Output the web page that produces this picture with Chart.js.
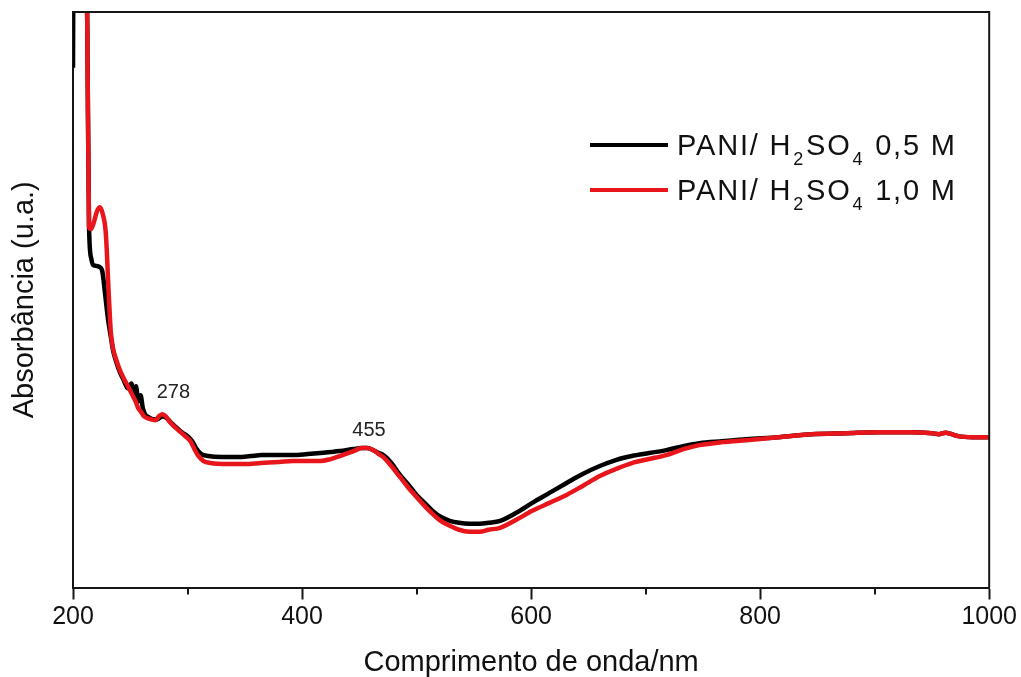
<!DOCTYPE html>
<html lang="pt-BR">
<head>
    <meta charset="utf-8">
    <title>Espectro UV-Vis PANI / H2SO4</title>
    <style>
    body,
    html {
        margin: 0;
        background: #ffffff;
    }
    #wrap {
        width: 1021px;
        height: 677px;
    }
    </style>
    <script src="https://cdn.jsdelivr.net/npm/chart.js"></script>
</head>
<body>
    <div id="wrap">
        <canvas id="uvChart" width="1021" height="677"></canvas>
    </div>

    <script type="text/javascript">
        // espectro PANI/ H2SO4 0,5 M (comprimento de onda em nm, absorbância em u.a.)
        var wl05 = [200, 200.8, 205, 211, 212.5, 214, 216, 217.5, 220, 223, 225.5, 228, 230.5, 233, 235, 237.4, 241, 244.4, 248, 251, 253, 255, 257, 259, 261, 263, 266, 270, 274, 278, 282, 286, 290, 295, 300, 304, 308, 312, 318, 330, 345, 355, 365, 380, 392, 405, 416, 425, 433, 445, 452, 457, 462, 467, 471, 478, 485.5, 493, 500, 507, 514, 521, 529, 537, 546, 555, 563, 573, 587, 601, 616, 631, 645, 660, 674, 688, 703, 718, 733, 747, 767, 788, 816, 845, 875, 903, 932, 950, 956, 962, 966, 973, 985, 1000];
        var abs05 = [5.22, 7.5, 9.0, 7.0, 5.6, 3.62, 3.30, 3.24, 3.23, 3.22, 3.18, 2.95, 2.70, 2.52, 2.38, 2.28, 2.16, 2.08, 2.00, 2.05, 1.94, 2.02, 1.87, 1.93, 1.80, 1.74, 1.71, 1.69, 1.69, 1.72, 1.70, 1.65, 1.61, 1.56, 1.52, 1.47, 1.39, 1.34, 1.32, 1.31, 1.31, 1.32, 1.33, 1.33, 1.33, 1.34, 1.35, 1.36, 1.37, 1.39, 1.40, 1.40, 1.38, 1.35, 1.33, 1.25, 1.13, 1.03, 0.93, 0.85, 0.77, 0.71, 0.67, 0.65, 0.64, 0.64, 0.65, 0.67, 0.75, 0.85, 0.95, 1.05, 1.14, 1.22, 1.28, 1.32, 1.35, 1.38, 1.42, 1.45, 1.47, 1.49, 1.51, 1.54, 1.55, 1.56, 1.56, 1.55, 1.54, 1.555, 1.545, 1.52, 1.51, 1.51];

        // espectro PANI/ H2SO4 1,0 M
        var wl10 = [205, 211, 212.5, 214, 215.7, 218, 221, 223.5, 226, 228.7, 231, 233, 235, 237.4, 241, 244.4, 248, 252, 255, 257, 259, 262, 265, 268, 272, 275, 278, 281, 284, 288, 292, 296, 300, 303, 306, 309, 314, 320, 335, 350, 364, 380, 392, 405, 416, 425, 433, 445, 452, 457, 462, 467, 471, 478, 485.5, 493, 500, 507, 514, 521, 529, 537, 546, 555, 563, 573, 587, 601, 616, 631, 645, 660, 674, 688, 703, 718, 733, 747, 767, 788, 816, 845, 875, 903, 932, 950, 956, 962, 966, 973, 985, 1000];
        var abs10 = [9.0, 7.0, 5.6, 3.62, 3.60, 3.66, 3.78, 3.82, 3.75, 3.55, 3.0, 2.57, 2.40, 2.30, 2.18, 2.10, 2.02, 1.93, 1.86, 1.80, 1.77, 1.72, 1.70, 1.69, 1.68, 1.72, 1.74, 1.72, 1.67, 1.62, 1.58, 1.54, 1.50, 1.46, 1.39, 1.33, 1.27, 1.25, 1.24, 1.24, 1.25, 1.26, 1.27, 1.27, 1.27, 1.29, 1.32, 1.37, 1.40, 1.40, 1.38, 1.34, 1.31, 1.22, 1.11, 1.00, 0.91, 0.82, 0.74, 0.67, 0.62, 0.58, 0.56, 0.56, 0.58, 0.60, 0.68, 0.77, 0.85, 0.93, 1.02, 1.12, 1.19, 1.25, 1.29, 1.33, 1.39, 1.43, 1.46, 1.48, 1.51, 1.54, 1.55, 1.56, 1.56, 1.55, 1.54, 1.555, 1.545, 1.52, 1.51, 1.51];

        var seriesNames = [
            ['PANI/ H', '2', 'SO', '4', ' 0,5 M'],
            ['PANI/ H', '2', 'SO', '4', ' 1,0 M']
        ];
        var seriesColors = ['#000000', '#e8151b'];

        // bandas marcadas no espectro
        var peakWl = [278, 455];
        var peakAbs = [1.74, 1.40];

        var xTicks = [200, 400, 600, 800, 1000];

        var FONT = '"Liberation Sans", Arial, sans-serif';
        var AXIS = '#161616';

        function toPoints(xs, ys) {
            return xs.map(function (x, i) { return { x: x, y: ys[i] }; });
        }

        // moldura, ticks menores, rótulos das bandas e legenda com subscritos
        var extras = {
            id: 'extras',
            afterDraw: function (chart) {
                var ctx = chart.ctx;
                var a = chart.chartArea;
                var xs = chart.scales.x;
                var ys = chart.scales.y;
                ctx.save();

                ctx.strokeStyle = AXIS;
                ctx.lineWidth = 2;
                ctx.beginPath();
                ctx.moveTo(a.left, a.top);
                ctx.lineTo(a.right, a.top);
                ctx.lineTo(a.right, a.bottom);
                ctx.stroke();

                // ticks menores a cada 100 nm
                for (var v = 300; v < 1000; v += 200) {
                    var px = Math.round(xs.getPixelForValue(v));
                    ctx.beginPath();
                    ctx.moveTo(px, a.bottom);
                    ctx.lineTo(px, a.bottom + 7);
                    ctx.stroke();
                }

                ctx.fillStyle = '#222222';
                ctx.font = '20px ' + FONT;
                ctx.textAlign = 'center';
                ctx.textBaseline = 'middle';
                peakWl.forEach(function (w, i) {
                    var offX = i === 0 ? 11 : 4;
                    var offY = i === 0 ? 22 : 18;
                    ctx.fillText(String(w), xs.getPixelForValue(w) + offX, ys.getPixelForValue(peakAbs[i]) - offY);
                });

                // legenda
                var lx = 590, ly = 145, rowH = 45;
                ctx.textAlign = 'left';
                ctx.textBaseline = 'alphabetic';
                ctx.letterSpacing = '1.8px';
                seriesNames.forEach(function (parts, i) {
                    var y = ly + i * rowH;
                    ctx.strokeStyle = seriesColors[i];
                    ctx.lineWidth = 4;
                    ctx.beginPath();
                    ctx.moveTo(lx, y);
                    ctx.lineTo(lx + 78, y);
                    ctx.stroke();

                    var tx = lx + 87;
                    ctx.fillStyle = '#111111';
                    parts.forEach(function (p, k) {
                        var sub = (k % 2 === 1);
                        ctx.font = (sub ? '18px ' : '29px ') + FONT;
                        ctx.fillText(p, tx, y + (sub ? 20 : 10));
                        tx += ctx.measureText(p).width + 1;
                    });
                });
                ctx.restore();
            }
        };

        var chart = new Chart(document.getElementById('uvChart').getContext('2d'), {
            type: 'line',
            data: {
                datasets: [{
                    label: 'PANI/ H2SO4 0,5 M',
                    data: toPoints(wl05, abs05),
                    borderColor: seriesColors[0],
                    borderWidth: 4.5,
                    pointRadius: 0,
                    cubicInterpolationMode: 'monotone',
                    clip: 0,
                    order: 1
                }, {
                    label: 'PANI/ H2SO4 1,0 M',
                    data: toPoints(wl10, abs10),
                    borderColor: seriesColors[1],
                    borderWidth: 4.5,
                    pointRadius: 0,
                    cubicInterpolationMode: 'monotone',
                    clip: 0,
                    order: 0
                }]
            },
            options: {
                responsive: false,
                animation: false,
                events: [],
                layout: {
                    padding: { left: 0, right: 30, top: 12, bottom: 0 }
                },
                plugins: {
                    legend: { display: false },
                    tooltip: { enabled: false }
                },
                scales: {
                    x: {
                        type: 'linear',
                        min: 200,
                        max: 1000,
                        afterBuildTicks: function (scale) {
                            scale.ticks = xTicks.map(function (v) { return { value: v }; });
                        },
                        ticks: {
                            autoSkip: false,
                            maxRotation: 0,
                            padding: 4,
                            color: '#111111',
                            font: { family: FONT, size: 25, lineHeight: 1.1 },
                            callback: function (value) { return String(value); }
                        },
                        grid: {
                            display: true,
                            drawOnChartArea: false,
                            drawTicks: true,
                            tickLength: 12,
                            tickWidth: 2,
                            tickColor: AXIS
                        },
                        border: { display: true, color: AXIS, width: 2 },
                        title: {
                            display: true,
                            text: 'Comprimento de onda/nm',
                            color: '#111111',
                            font: { family: FONT, size: 29, lineHeight: 1 },
                            padding: { top: 13, bottom: 0 }
                        }
                    },
                    y: {
                        min: 0,
                        max: 5.78,
                        ticks: { display: false },
                        grid: { display: false, drawTicks: false },
                        border: { display: true, color: AXIS, width: 2 },
                        title: {
                            display: true,
                            text: 'Absorbância (u.a.)',
                            color: '#111111',
                            font: { family: FONT, size: 29, lineHeight: 1 },
                            padding: { top: 10, bottom: 34 }
                        }
                    }
                }
            },
            plugins: [extras]
        });
    </script>
</body>
</html>
